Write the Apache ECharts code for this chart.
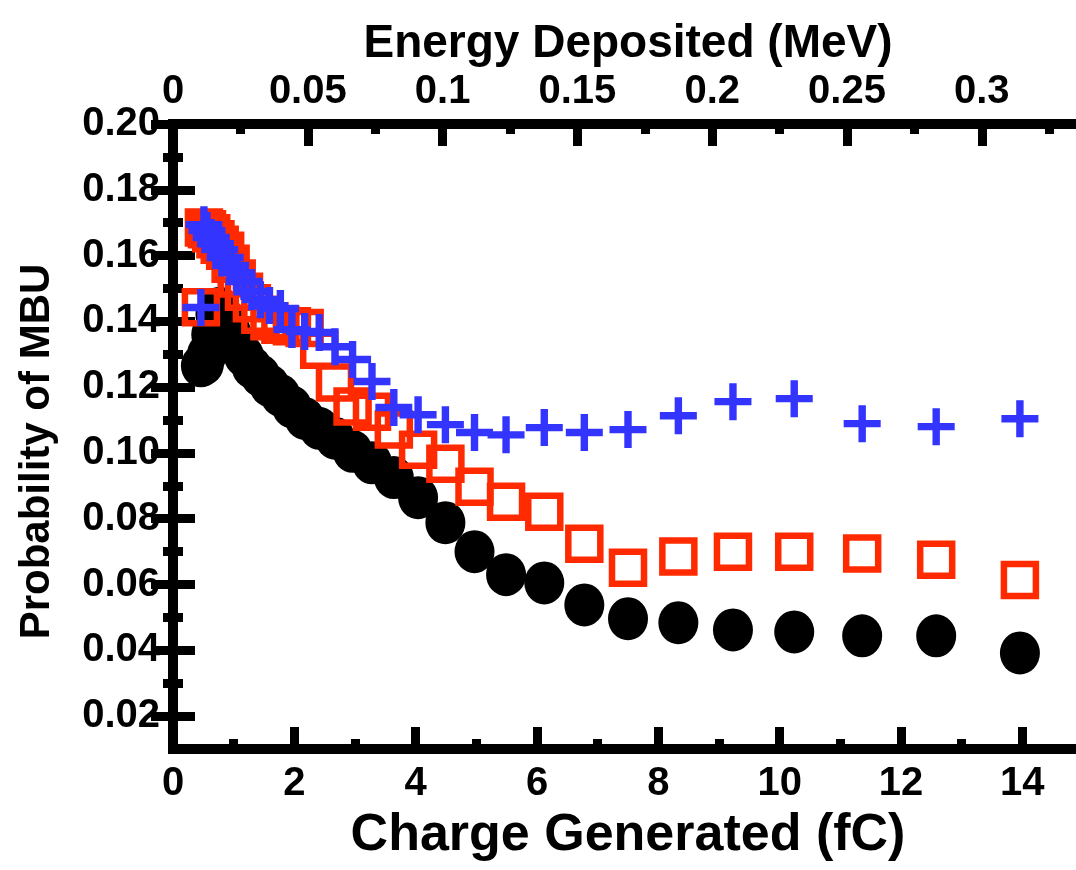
<!DOCTYPE html>
<html>
<head>
<meta charset="utf-8">
<title>Probability of MBU</title>
<script src="https://cdn.jsdelivr.net/npm/echarts@6.0.0/dist/echarts.min.js"></script>
<style>
  html, body { margin: 0; padding: 0; background: #fff; }
  #chart { width: 1076px; height: 870px; }
</style>
</head>
<body>
<div id="chart"></div>
<script>
// charge bins (fC), same for all three series
const charge = [0.46, 0.51, 0.56, 0.63, 0.70, 0.77, 0.86, 0.95, 1.05, 1.17, 1.30, 1.44, 1.59, 1.77, 1.96,
  2.17, 2.41, 2.67, 2.96, 3.28, 3.64, 4.04, 4.49, 4.97, 5.49, 6.12, 6.78, 7.50, 8.33, 9.23, 10.24, 11.36, 12.58, 13.96]

// black filled circles
const probCircle = [0.1265, 0.1270, 0.1300, 0.1360, 0.1420, 0.1440, 0.1405, 0.1370, 0.1335, 0.1295, 0.1260, 0.1235, 0.1205, 0.1175, 0.1140,
  0.1105, 0.1075, 0.1045, 0.1005, 0.0970, 0.0925, 0.0864, 0.0788, 0.0700, 0.0630, 0.0605, 0.0538, 0.0496, 0.0484, 0.0462, 0.0456, 0.0444, 0.0444, 0.0392]

// red open squares
const probSquare = [0.1443, 0.1685, 0.1680, 0.1668, 0.1650, 0.1633, 0.1615, 0.1575, 0.1530, 0.1490, 0.1455, 0.1420, 0.1400, 0.1390, 0.1385,
  0.1380, 0.1314, 0.1214, 0.1141, 0.1125, 0.1071, 0.1010, 0.0967, 0.0897, 0.0852, 0.0821, 0.0724, 0.0651, 0.0685, 0.0700, 0.0700, 0.0694, 0.0675, 0.0614]

// blue crosses
const probCross = [0.1442, 0.1694, 0.1676, 0.1655, 0.1636, 0.1618, 0.1594, 0.1570, 0.1548, 0.1521, 0.1490, 0.1466, 0.1448, 0.1439, 0.1375,
  0.1369, 0.1366, 0.1323, 0.1284, 0.1217, 0.1138, 0.1116, 0.1086, 0.1062, 0.1055, 0.1077, 0.1062, 0.1071, 0.1113, 0.1156, 0.1165, 0.1089, 0.1080, 0.1104]

// tick positions
const chargeTicks = [0, 2, 4, 6, 8, 10, 12, 14]
const chargeMinorTicks = [1, 3, 5, 7, 9, 11, 13]
const energyTicks = [0, 0.05, 0.1, 0.15, 0.2, 0.25, 0.3]
const energyMinorTicks = [0.025, 0.075, 0.125, 0.175, 0.225, 0.275, 0.325]
const probTicks = [0.02, 0.04, 0.06, 0.08, 0.10, 0.12, 0.14, 0.16, 0.18, 0.20]
const probMinorTicks = [0.03, 0.05, 0.07, 0.09, 0.11, 0.13, 0.15, 0.17, 0.19]

const chargeMax = 15
const fcPerMeV = 44.44   // 3.6 eV per pair
const probMin = 0.01
const probMax = 0.20

const font = "'Liberation Sans', Arial, Helvetica, sans-serif"

function tick(values, len) {
  return {
    show: true,
    inside: true,
    length: len,
    customValues: values,
    lineStyle: { color: '#000', width: 9 }
  }
}

function frame(show) {
  return { show: show, lineStyle: { color: '#000', width: 10, cap: 'square' } }
}

const labelStyle = { color: '#000', fontFamily: font, fontWeight: 'bold', fontSize: 40 }

const chart = echarts.init(document.getElementById('chart'))

chart.setOption({
  animation: false,
  backgroundColor: '#fff',
  grid: {
    left: 173,
    right: -7,
    top: 124,
    bottom: 121,
    containLabel: false,
    outerBoundsMode: 'none'
  },
  xAxis: [
    {
      type: 'value', position: 'bottom', min: 0, max: chargeMax,
      axisLine: frame(true),
      axisTick: tick(chargeTicks, 22),
      axisLabel: Object.assign({ customValues: chargeTicks, margin: 15 }, labelStyle),
      splitLine: { show: false },
      name: 'Charge Generated (fC)',
      nameLocation: 'middle',
      nameGap: 61,
      nameTextStyle: { color: '#000', fontFamily: font, fontWeight: 'bold', fontSize: 52 }
    },
    {
      type: 'value', position: 'bottom', min: 0, max: chargeMax,
      axisLine: frame(false),
      axisTick: tick(chargeMinorTicks, 10),
      axisLabel: { show: false },
      splitLine: { show: false }
    },
    {
      type: 'value', position: 'top', min: 0, max: chargeMax / fcPerMeV,
      axisLine: frame(true),
      axisTick: tick(energyTicks, 22),
      axisLabel: Object.assign({ customValues: energyTicks, margin: 12 }, labelStyle),
      splitLine: { show: false },
      name: 'Energy Deposited (MeV)',
      nameLocation: 'middle',
      nameGap: 56,
      nameTextStyle: { color: '#000', fontFamily: font, fontWeight: 'bold', fontSize: 46 }
    },
    {
      type: 'value', position: 'top', min: 0, max: chargeMax / fcPerMeV,
      axisLine: frame(false),
      axisTick: tick(energyMinorTicks, 10),
      axisLabel: { show: false },
      splitLine: { show: false }
    }
  ],
  yAxis: [
    {
      type: 'value', position: 'left', min: probMin, max: probMax,
      axisLine: frame(true),
      axisTick: tick(probTicks, 22),
      axisLabel: Object.assign({
        customValues: probTicks,
        margin: 13,
        formatter: v => v.toFixed(2)
      }, labelStyle),
      splitLine: { show: false },
      name: 'Probability of MBU',
      nameLocation: 'middle',
      nameGap: 115,
      nameTextStyle: { color: '#000', fontFamily: font, fontWeight: 'bold', fontSize: 42, padding: [0, 30, 0, 0] }
    },
    {
      type: 'value', position: 'left', min: probMin, max: probMax,
      axisLine: frame(false),
      axisTick: tick(probMinorTicks, 10),
      axisLabel: { show: false },
      splitLine: { show: false }
    },
    {
      type: 'value', position: 'right', min: probMin, max: probMax,
      axisLine: frame(true),
      axisTick: tick(probTicks, 22),
      axisLabel: { show: false },
      splitLine: { show: false }
    },
    {
      type: 'value', position: 'right', min: probMin, max: probMax,
      axisLine: frame(false),
      axisTick: tick(probMinorTicks, 10),
      axisLabel: { show: false },
      splitLine: { show: false }
    }
  ],
  series: [
    {
      name: 'circles',
      type: 'scatter',
      xAxisIndex: 0, yAxisIndex: 0,
      symbol: 'circle',
      symbolSize: [40, 43],
      itemStyle: { color: '#000', opacity: 1 },
      data: charge.map((c, i) => [c, probCircle[i]])
    },
    {
      name: 'squares',
      type: 'scatter',
      xAxisIndex: 0, yAxisIndex: 0,
      symbol: 'rect',
      symbolSize: 32,
      itemStyle: { color: 'rgba(0,0,0,0)', borderColor: '#ff2a00', borderWidth: 6.5, opacity: 1 },
      data: charge.map((c, i) => [c, probSquare[i]])
    },
    {
      name: 'crosses',
      type: 'scatter',
      xAxisIndex: 0, yAxisIndex: 0,
      symbol: 'path://M8 0h4v8h8v4h-8v8h-4v-8h-8v-4h8z',
      symbolSize: 37,
      itemStyle: { color: '#3434ff', opacity: 1 },
      data: charge.map((c, i) => [c, probCross[i]])
    }
  ]
})
</script>
</body>
</html>
